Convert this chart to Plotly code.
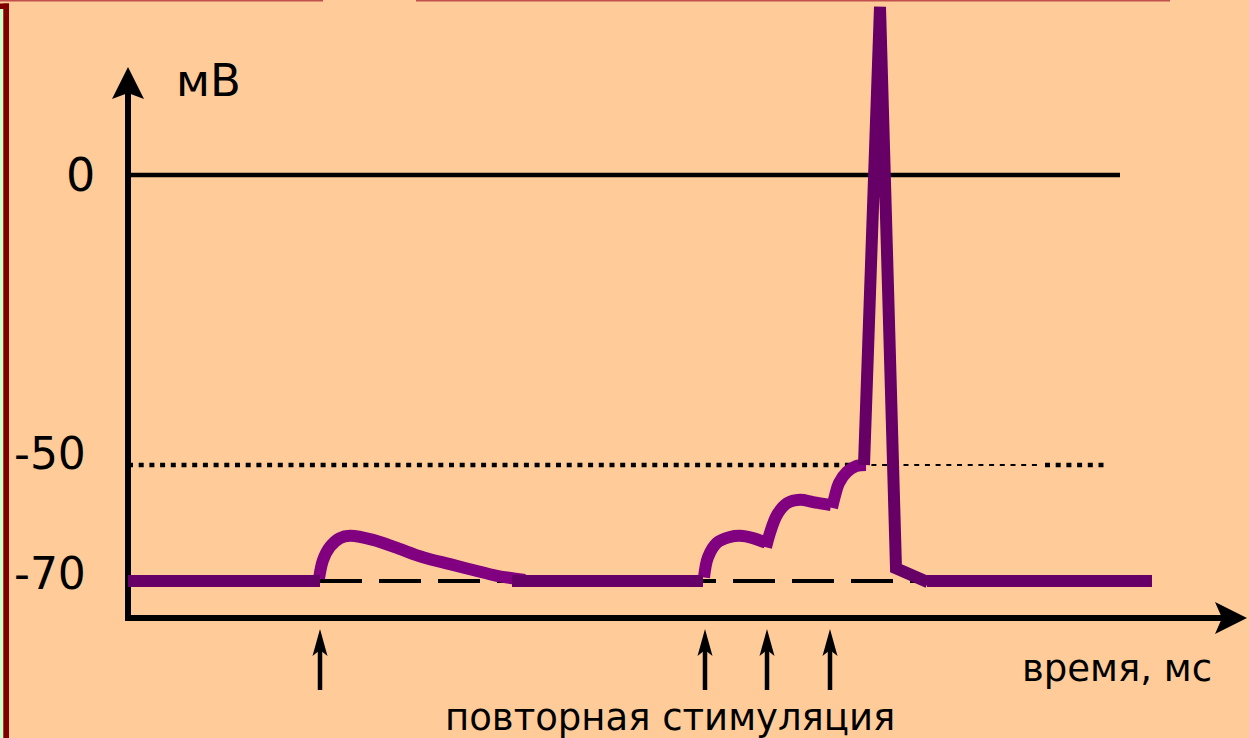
import plotly.graph_objects as go

W, H = 1249, 738

# ---------------- data (time in arbitrary ms units, potential in mV) ----------------
rest1_t = [128, 320]
rest1_v = [-70, -70]

epsp1_t = [319, 323, 330, 340, 350, 373, 397, 423, 450, 473, 497, 525]
epsp1_v = [-69.6, -66.4, -64.1, -62.6, -62.2, -62.9, -64.3, -65.9, -67.1, -68.1, -69.1, -69.8]

rest2_t = [512, 703]
rest2_v = [-70, -70]

summ_t = [704, 708, 717, 730, 740, 753, 766, None,
          766, 770, 777, 787, 800, 813, 831, None,
          832, 835, 839, 847, 856, 866]
summ_v = [-69.4, -65.9, -63.4, -62.4, -62.2, -62.6, -63.4, None,
          -64.2, -61.7, -58.6, -56.6, -56.0, -56.4, -56.9, None,
          -57.4, -55.3, -53.1, -51.2, -50.2, -50.0]

spike_t = [864, 880, 896, 928]
spike_v = [-50, 29, -67.8, -70.2]

rest3_t = [927, 1152]
rest3_v = [-70, -70]

stim_times = [320, 705, 767, 830]

ytick_vals = [0, -50, -70]
ytick_text = ["0", "-50", "-70"]

BG = "#FFCC99"
DARK = "#660066"
LIGHT = "#800080"

# pixel helpers for decoration (axis arrows, frame)
def px(x):
    return x / W

def py(y):
    return 1 - y / H

# y axis: 0 mV at pixel 175, 5.8 px per mV
Y0PX, KPX = 175.0, 5.8
yr = [(Y0PX - H) / KPX, Y0PX / KPX]

fig = go.Figure()

def add_line(t, v, color, width=12, shape="linear"):
    fig.add_trace(go.Scatter(x=t, y=v, mode="lines",
                             line=dict(color=color, width=width, shape=shape, smoothing=1),
                             connectgaps=False, hoverinfo="skip", showlegend=False))

add_line(epsp1_t, epsp1_v, LIGHT, shape="spline")
add_line(summ_t, summ_v, LIGHT, shape="spline")
add_line(rest1_t, rest1_v, DARK)
add_line(rest2_t, rest2_v, DARK)
add_line(spike_t, spike_v, DARK)
add_line(rest3_t, rest3_v, DARK)

shapes = []
# frame at left (green strip, dark red border) and top red line
shapes.append(dict(type="rect", xref="paper", yref="paper", x0=px(0), x1=px(3.3), y0=py(6), y1=py(740),
                   fillcolor="#CCFFCC", line=dict(width=0), layer="below"))
shapes.append(dict(type="rect", xref="paper", yref="paper", x0=px(3.3), x1=px(9), y0=py(3.5), y1=py(740),
                   fillcolor="#800000", line=dict(width=0), layer="below"))
shapes.append(dict(type="rect", xref="paper", yref="paper", x0=px(0), x1=px(9), y0=py(3.5), y1=py(9),
                   fillcolor="#800000", line=dict(width=0), layer="below"))
shapes.append(dict(type="line", xref="paper", yref="paper", x0=px(0), x1=px(323), y0=py(0.5), y1=py(0.5),
                   line=dict(color="#C0504D", width=2), layer="below"))
shapes.append(dict(type="line", xref="paper", yref="paper", x0=px(416), x1=px(1170), y0=py(0.5), y1=py(0.5),
                   line=dict(color="#C0504D", width=2), layer="below"))

# reference levels (data)
shapes.append(dict(type="line", xref="x", yref="y", x0=128, x1=1120, y0=ytick_vals[0], y1=ytick_vals[0],
                   line=dict(color="black", width=4.5), layer="below"))
shapes.append(dict(type="line", xref="x", yref="y", x0=128, x1=850, y0=ytick_vals[1], y1=ytick_vals[1],
                   line=dict(color="black", width=4.5, dash="5px,5.7px"), layer="below"))
shapes.append(dict(type="line", xref="x", yref="y", x0=850, x1=1042, y0=ytick_vals[1], y1=ytick_vals[1],
                   line=dict(color="black", width=2.2, dash="5px,5.7px"), layer="below"))
shapes.append(dict(type="line", xref="x", yref="y", x0=1045, x1=1105, y0=ytick_vals[1], y1=ytick_vals[1],
                   line=dict(color="black", width=4.5, dash="5px,5.7px"), layer="below"))
shapes.append(dict(type="line", xref="x", yref="y", x0=320, x1=915, y0=ytick_vals[2], y1=ytick_vals[2],
                   line=dict(color="black", width=4, dash="42px,17px"), layer="below"))

# axes
shapes.append(dict(type="line", xref="paper", yref="paper", x0=px(128), x1=px(128), y0=py(621), y1=py(90),
                   line=dict(color="black", width=6), layer="below"))
shapes.append(dict(type="line", xref="paper", yref="paper", x0=px(125), x1=px(1225), y0=py(618), y1=py(618),
                   line=dict(color="black", width=6), layer="below"))
# y arrowhead
shapes.append(dict(type="path", xref="paper", yref="paper",
                   path=f"M {px(128)} {py(67)} L {px(144)} {py(99)} L {px(128)} {py(93)} L {px(112)} {py(99)} Z",
                   fillcolor="black", line=dict(width=0), layer="below"))
# x arrowhead
shapes.append(dict(type="path", xref="paper", yref="paper",
                   path=f"M {px(1247)} {py(618)} L {px(1215)} {py(634)} L {px(1222)} {py(618)} L {px(1215)} {py(602)} Z",
                   fillcolor="black", line=dict(width=0), layer="below"))

# stimulus arrows (x from data)
for t in stim_times:
    shapes.append(dict(type="line", xref="x", yref="paper", x0=t, x1=t, y0=py(690), y1=py(648),
                       line=dict(color="black", width=4.5), layer="below"))
    shapes.append(dict(type="path", xref="x", yref="paper",
                       path=f"M {t} {py(629)} L {t+7.5} {py(656)} L {t} {py(650)} L {t-7.5} {py(656)} Z",
                       fillcolor="black", line=dict(width=0), layer="below"))

FONT = "DejaVu Sans, Verdana, sans-serif"
annotations = [
    dict(text=ytick_text[0], x=px(80), y=ytick_vals[0], xref="paper", yref="y", showarrow=False,
         font=dict(size=46, color="black", family=FONT), xanchor="center", yanchor="middle"),
    dict(text=ytick_text[1], x=px(50), y=ytick_vals[1] + 2.0, xref="paper", yref="y", showarrow=False,
         font=dict(size=44, color="black", family=FONT), xanchor="center", yanchor="middle"),
    dict(text=ytick_text[2], x=px(50), y=ytick_vals[2] + 1.3, xref="paper", yref="y", showarrow=False,
         font=dict(size=44, color="black", family=FONT), xanchor="center", yanchor="middle"),
    dict(text="мВ", x=px(209), y=py(80), xref="paper", yref="paper", showarrow=False,
         font=dict(size=45, color="black", family=FONT), xanchor="center", yanchor="middle"),
    dict(text="время, мс", x=px(1117), y=py(668), xref="paper", yref="paper", showarrow=False,
         font=dict(size=37, color="black", family=FONT), xanchor="center", yanchor="middle"),
    dict(text="повторная стимуляция", x=px(670), y=py(717), xref="paper", yref="paper", showarrow=False,
         font=dict(size=37, color="black", family=FONT), xanchor="center", yanchor="middle"),
]

fig.update_layout(
    width=W, height=H,
    margin=dict(l=0, r=0, t=0, b=0),
    paper_bgcolor=BG, plot_bgcolor="rgba(0,0,0,0)",
    xaxis=dict(range=[0, W], visible=False, fixedrange=True),
    yaxis=dict(range=yr, visible=False, fixedrange=True),
    shapes=shapes, annotations=annotations,
    showlegend=False,
)

fig.write_html("out.html",
               config={"displayModeBar": False, "staticPlot": True},
               post_script="document.body.style.margin='0';document.body.style.padding='0';"
                           "document.body.style.overflow='hidden';")
